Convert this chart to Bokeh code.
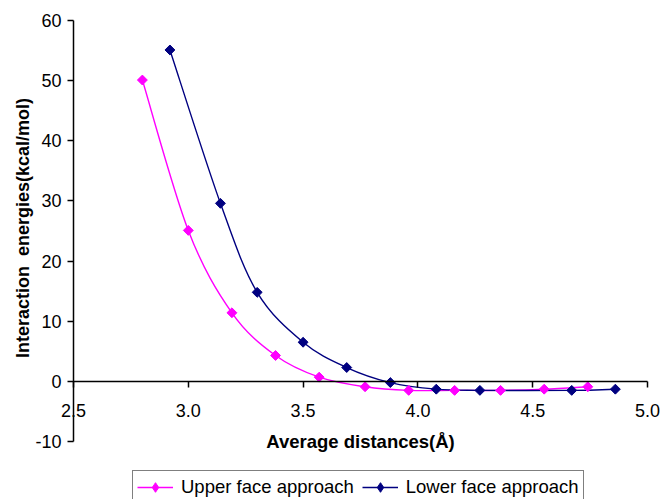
import numpy as np
from bokeh.plotting import figure
from bokeh.models import (Range1d, FixedTicker, NumeralTickFormatter, Legend,
                          LegendItem, Label, ColumnDataSource)
from bokeh.embed import file_html
from bokeh.resources import INLINE

# ---- data ----
upper_x = [2.80, 3.00, 3.19, 3.38, 3.57, 3.77, 3.96, 4.16, 4.36, 4.55, 4.74]
upper_y = [50.1, 25.1, 11.4, 4.3, 0.7, -0.9, -1.5, -1.5, -1.5, -1.3, -0.9]
lower_x = [2.92, 3.14, 3.30, 3.50, 3.69, 3.88, 4.08, 4.27, 4.67, 4.86]
lower_y = [55.1, 29.6, 14.8, 6.5, 2.3, -0.2, -1.3, -1.5, -1.5, -1.3]
x_ticks = [2.5, 3.0, 3.5, 4.0, 4.5, 5.0]
y_ticks = [-10, 0, 10, 20, 30, 40, 50, 60]
series_names = ["Upper face approach", "Lower face approach"]
x_title = "Average distances(Å)"
y_title = "Interaction \u00a0energies(kcal/mol)"

FONT = "Liberation Sans"
PINK = "#FF00FF"
NAVY = "#000080"

W, H = 661, 499
# plot area of the reference: x 2.5..5.0 over px 73..647, y -10..60 over px 441..20
PX_PER_X = (647 - 73) / 2.5
PX_PER_Y = (441 - 20) / 70.0
x_start = x_ticks[0] - 73 / PX_PER_X
x_end = x_ticks[-1] + (W - 647) / PX_PER_X
y_end = y_ticks[-1] + 20 / PX_PER_Y
y_start = y_ticks[0] - (H - 441) / PX_PER_Y


def smooth_source(xs, ys):
    """Bezier segments through the data points (Excel-style smoothed line)."""
    x = np.asarray(xs, float)
    y = np.asarray(ys, float)
    n = len(x)
    px = np.concatenate([[x[0]], x, [x[-1]]])
    py = np.concatenate([[y[0]], y, [y[-1]]])
    cx0 = x[:-1] + (px[2:n + 1] - px[0:n - 1]) / 6.0
    cy0 = y[:-1] + (py[2:n + 1] - py[0:n - 1]) / 6.0
    cx1 = x[1:] - (px[3:n + 2] - px[1:n]) / 6.0
    cy1 = y[1:] - (py[3:n + 2] - py[1:n]) / 6.0
    return ColumnDataSource(dict(x0=x[:-1], y0=y[:-1], x1=x[1:], y1=y[1:],
                                 cx0=cx0, cy0=cy0, cx1=cx1, cy1=cy1))


p = figure(width=W, height=H, output_backend="svg", toolbar_location=None,
           x_range=Range1d(x_start, x_end), y_range=Range1d(y_start, y_end),
           min_border_left=0, min_border_right=0, min_border_top=0,
           min_border_bottom=0)
p.xgrid.visible = False
p.ygrid.visible = False
p.outline_line_color = None
p.background_fill_color = "white"
p.border_fill_color = "white"

# x axis crossing at y = 0
xa = p.xaxis[0]
xa.fixed_location = 0
xa.bounds = (x_ticks[0], x_ticks[-1])
xa.ticker = FixedTicker(ticks=x_ticks)
xa.formatter = NumeralTickFormatter(format="0.0")
xa.major_tick_in = 0
xa.major_tick_out = 6
xa.minor_tick_line_color = None
xa.axis_line_width = 1.5
xa.major_tick_line_width = 1.5
xa.axis_line_color = "black"
xa.major_tick_line_color = "black"
xa.major_label_text_font = FONT
xa.major_label_text_font_size = "18px"
xa.major_label_text_color = "black"
xa.major_label_standoff = 17

# y axis at x = 2.5
ya = p.yaxis[0]
ya.fixed_location = x_ticks[0]
ya.bounds = (y_ticks[0], y_ticks[-1])
ya.ticker = FixedTicker(ticks=y_ticks)
ya.formatter = NumeralTickFormatter(format="0")
ya.major_tick_in = 0
ya.major_tick_out = 6
ya.minor_tick_line_color = None
ya.axis_line_width = 1.5
ya.major_tick_line_width = 1.5
ya.axis_line_color = "black"
ya.major_tick_line_color = "black"
ya.major_label_text_font = FONT
ya.major_label_text_font_size = "18px"
ya.major_label_text_color = "black"
ya.major_label_standoff = 6

p.add_layout(Label(x=22, y=25.5, x_units="screen", y_units="data", text=y_title,
                   angle=np.pi / 2, text_align="center", text_baseline="middle",
                   text_font=FONT, text_font_style="bold",
                   text_font_size="18px", text_color="black"))
p.add_layout(Label(x=(x_ticks[0] + x_ticks[-1]) / 2, y=-10, x_units="data",
                   y_units="data", text=x_title, text_align="center",
                   text_baseline="middle", text_font=FONT,
                   text_font_style="bold", text_font_size="18.5px",
                   text_color="black"))

src_u = smooth_source(upper_x, upper_y)
src_l = smooth_source(lower_x, lower_y)
bu = p.bezier(x0="x0", y0="y0", x1="x1", y1="y1", cx0="cx0", cy0="cy0",
              cx1="cx1", cy1="cy1", source=src_u, line_color=PINK, line_width=1.4)
bl = p.bezier(x0="x0", y0="y0", x1="x1", y1="y1", cx0="cx0", cy0="cy0",
              cx1="cx1", cy1="cy1", source=src_l, line_color=NAVY, line_width=1.4)
# diamond markers (used by the legend), covered by the rotated squares below
du = p.scatter(upper_x, upper_y, marker="diamond", size=8,
               fill_color=PINK, line_color=PINK)
dl = p.scatter(lower_x, lower_y, marker="diamond", size=8,
               fill_color=NAVY, line_color=NAVY)
p.scatter(upper_x, upper_y, marker="square", angle=np.pi / 4, size=7,
          fill_color=PINK, line_color=PINK)
p.scatter(lower_x, lower_y, marker="square", angle=np.pi / 4, size=7,
          fill_color=NAVY, line_color=NAVY)

legend = Legend(items=[LegendItem(label=series_names[0], renderers=[bu, du]),
                       LegendItem(label=series_names[1], renderers=[bl, dl])],
                orientation="horizontal", location=(132, -5))
legend.border_line_color = "black"
legend.border_line_width = 1
legend.background_fill_color = "white"
legend.background_fill_alpha = 1
legend.padding = 4
legend.spacing = 8
legend.margin = 0
legend.glyph_width = 36
legend.glyph_height = 24
legend.label_height = 20
legend.label_standoff = 8
legend.label_text_font = FONT
legend.label_text_font_size = "18.5px"
legend.label_text_color = "black"
p.add_layout(legend)

open("out.html", "w").write(file_html(p, INLINE))
